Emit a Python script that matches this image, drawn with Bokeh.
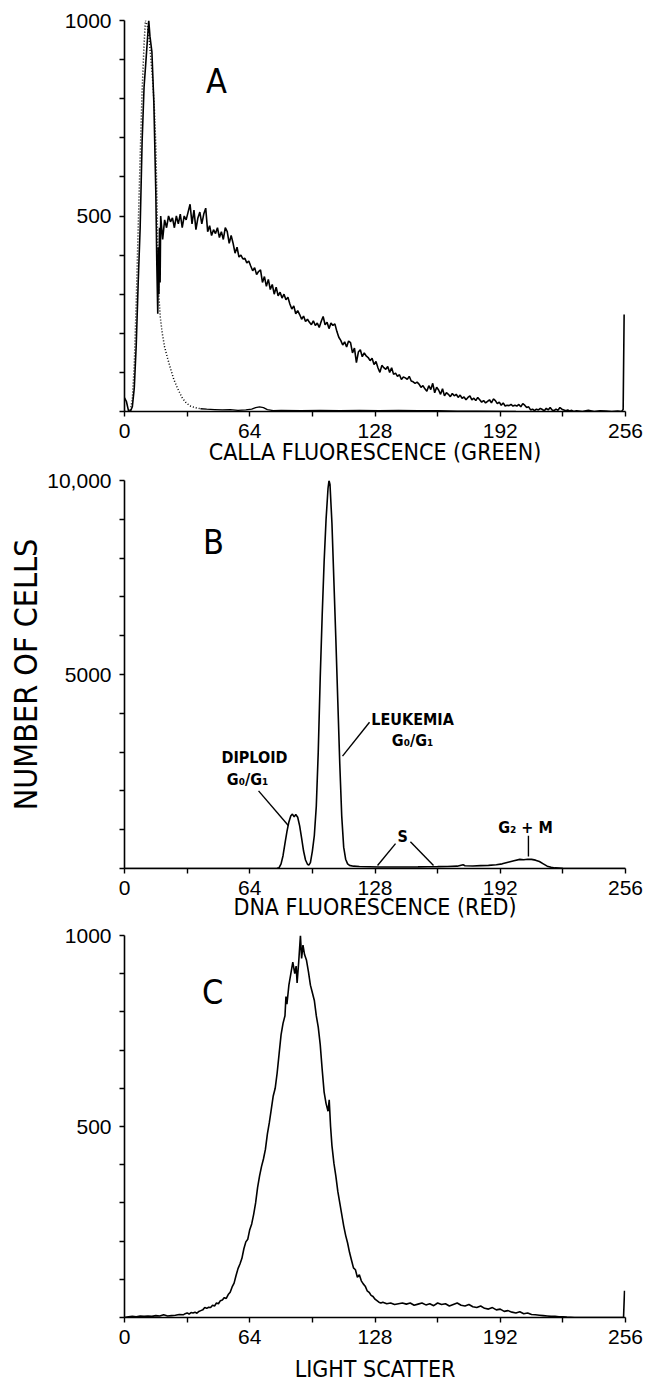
from bokeh.plotting import figure
from bokeh.layouts import column
from bokeh.models import Range1d, FixedTicker, Label
from bokeh.embed import file_html
from bokeh.resources import INLINE

# ---------------- data ----------------
x_ticks = [0, 64, 128, 192, 256]
x_minor = [32, 96, 160, 224]
x_tick_labels = ["0", "64", "128", "192", "256"]

# Panel A: CALLA fluorescence (solid = patient cells)
calla_x = [0, 1, 2, 3, 4, 5, 6, 7, 8, 9, 10, 11, 11.7, 12.4, 13, 14, 15, 16, 16.5, 17, 17.3, 17.6, 17.9, 18.2, 18.5,
           19.5, 20.5, 21.5, 22.5, 23.5, 24.5, 25.5, 26.5, 27.5, 28.5, 29.5, 30.5, 31.5, 32.5, 33.5, 34.5, 35.5, 36.5,
           37.5, 38.5, 39.5, 40.5, 41.5, 42.5, 43.5, 44.5, 45.5, 46.5, 47.5, 48.5, 49.5, 50.5, 51.5, 52.5, 53.5, 54.5,
           55.5, 56.5, 57.5, 58.5, 59.5, 60.5, 61.5, 62.5, 63.5, 64.5, 65.5, 66.5, 67.5, 68.5, 69.5, 70.5, 71.5, 72.5,
           73.5, 74.5, 75.5, 76.5, 77.5, 78.5, 79.5, 80.5, 81.5, 82.5, 83.5, 84.5, 85.5, 86.5, 87.5, 88.5, 89.5, 90.5,
           91.5, 92.5, 93.5, 94.5, 95.5, 96.5, 97.5, 98.5, 99.5, 100.5, 101.5, 102.5, 103.5, 104.5, 105.5, 106.5, 107.5,
           108.5, 109.5, 110.5, 111.5, 112.5, 113.5, 114.5, 115.5, 116.5, 117.5, 118.5, 119.5, 120.5, 121.5, 122.5,
           123.5, 124.5, 125.5, 126.5, 127.5, 128.5, 129.5, 130.5, 131.5, 132.5, 133.5, 134.5, 135.5, 136.5, 137.5,
           138.5, 139.5, 140.5, 141.5, 142.5, 143.5, 144.5, 145.5, 146.5, 147.5, 148.5, 149.5, 150.5, 151.5, 152.5,
           153.5, 154.5, 155.5, 156.5, 157.5, 158.5, 159.5, 160.5, 161.5, 162.5, 163.5, 164.5, 165.5, 166.5, 167.5,
           168.5, 169.5, 170.5, 171.5, 172.5, 173.5, 174.5, 175.5, 176.5, 177.5, 178.5, 179.5, 180.5, 181.5, 182.5,
           183.5, 184.5, 185.5, 186.5, 187.5, 188.5, 189.5, 190.5, 191.5, 192.5, 193.5, 194.5, 195.5, 196.5, 197.5,
           198.5, 199.5, 200.5, 201.5, 202.5, 203.5, 204.5, 205.5, 206.5, 207.5, 208.5, 209.5, 210.5, 211.5, 212.5,
           213.5, 214.5, 215.5, 216.5, 217.5, 218.5, 219.5, 220.5, 221.5, 222.5, 223.5, 224.5, 225.5, 226.5, 227.5,
           228.5, 229.5, 231, 234, 237, 240, 243, 246, 249, 252, 254, 254.8, 255.3]
calla_y = [35, 25, 3, 0, 12, 60, 170, 330, 470, 690, 830, 900, 950, 1000, 960, 920, 790, 560, 380, 250, 420, 300, 470, 330, 500,
           440, 490, 470, 500, 485, 495, 470, 500, 480, 505, 470, 500, 490, 510, 530, 480, 515, 465,
           495, 510, 480, 505, 520, 460, 475, 450, 465, 455, 470, 445, 460, 440, 470, 460, 430, 450,
           430, 405, 420, 395, 400, 390, 392, 380, 385, 372, 360, 368, 350, 358, 362, 330, 345, 320,
           338, 312, 325, 300, 318, 296, 305, 290, 300, 286, 292, 275, 262, 270, 250, 258, 248, 236,
           244, 230, 236, 228, 222, 232, 220, 226, 215, 230, 243, 222, 228, 212, 226, 220, 224,
           205, 190, 182, 170, 178, 165, 180, 176, 150, 162, 125, 152, 158, 140, 150,
           142, 138, 130, 136, 120, 128, 112, 100, 118, 112, 108, 115, 100, 112, 95,
           98, 90, 94, 82, 88, 86, 82, 90, 78, 76, 72, 75, 70, 62, 66,
           58, 52, 66, 56, 72, 48, 62, 55, 44, 58, 40, 48, 44, 38, 46,
           40, 44, 36, 42, 34, 37, 30, 36, 40, 30, 34, 28, 36, 30, 24,
           28, 22, 26, 30, 22, 32, 28, 20, 24, 16, 22, 14, 16, 15, 18,
           14, 16, 14, 18, 12, 20, 16, 10, 12, 4, 6, 2, 6, 4, 8,
           5, 2, 8, 4, 10, 4, 2, 6, 3, 10, 6, 4, 2, 4, 1,
           3, 0, 2, 0, 3, 0, 2, 1, 0, 1, 0, 5, 248]

# Panel A: control (dotted part, then flat tail)
ctrl_x = [0, 2, 3, 4, 5, 6, 7, 8, 9, 10, 10.7, 11.5, 12.5, 13.5, 14.5, 15.3, 16, 16.5, 17, 17.5, 18.3, 19.3, 20.5,
          21.8, 23.5, 25.2, 27, 29.5, 31.5, 33.7, 36, 38.8,
          42, 46, 50, 54, 58, 62, 65, 67, 69, 71, 73, 76, 80, 90, 100, 110, 120, 130, 140, 150, 160, 170, 180, 200]
ctrl_y = [0, 0, 5, 30, 120, 280, 470, 650, 820, 940, 1000, 990, 960, 900, 840, 770, 680, 560, 430, 300, 240, 200, 165,
          140, 110, 82, 60, 35, 22, 14, 10, 7,
          6, 5, 4, 5, 3, 4, 6, 10, 12, 10, 5, 2, 3, 2, 3, 2, 3, 2, 3, 2, 2, 1, 1, 0]

# Panel B: DNA fluorescence
dna_x = [0, 20, 40, 60, 76, 78, 79, 80, 81, 82, 83, 84, 85, 85.8, 86.7, 87.5, 88.5, 89.5, 90.5, 91.5, 92.5, 93.5, 94.2,
         95, 96, 97, 98, 99, 100, 101, 102, 103, 104, 104.5, 105, 106, 107, 108, 109, 110, 111, 112, 113, 114, 115,
         117, 120, 125, 130, 135, 140, 145, 150, 155, 160, 165, 170, 172, 173, 174, 178, 182, 186, 190, 193, 196, 199,
         202, 204, 206, 208, 210, 212, 214, 216, 218, 220, 224, 228, 240, 256]
dna_y = [0, 0, 0, 0, 0, 5, 20, 120, 330, 650, 950, 1200, 1360, 1400, 1330, 1390, 1320, 1100, 780, 450, 220, 110, 85,
         150, 450, 850, 1600, 3000, 4900, 6500, 7900, 9000, 9800, 10000, 9900, 8900, 7400, 5900, 4300, 2700, 1350, 550, 240, 120, 80,
         60, 50, 45, 40, 40, 38, 40, 42, 45, 48, 52, 60, 85, 95, 70, 65, 75, 80, 95, 120, 160, 200,
         235, 225, 240, 235, 215, 180, 120, 60, 30, 15, 5, 0, 0, 0]

# Panel C: light scatter
scat_x = [0, 2, 4, 6, 8, 10, 12, 14, 16, 18, 20, 22, 24, 26, 28, 30, 31, 32, 33, 34, 35, 36, 37, 38, 39, 40, 41, 42,
          43, 44, 45, 46, 47, 48, 49, 50, 51, 52, 53, 54, 55, 56, 57, 58, 59, 60, 61, 62, 63, 64, 65, 66, 67, 68, 69,
          70, 71, 72, 73, 74, 75, 76, 77, 78, 79, 80, 81, 82, 82.5, 83, 84, 85, 86, 87, 87.7, 88.2, 89, 89.9, 90.5,
          91.2, 92, 93, 94, 95, 96, 97, 98, 99, 100, 101, 102, 103, 104, 104.6, 105.3, 106, 107, 108, 109, 110, 111,
          112, 113, 114, 115, 116, 117, 118, 119, 120, 121, 122, 123, 124, 125, 126, 127, 128, 129, 130, 131, 132,
          134, 136, 138, 140, 142, 144, 146, 148, 150, 152, 154, 156, 158, 160, 162, 164, 166, 168, 170, 172, 174,
          176, 178, 180, 182, 184, 186, 188, 190, 192, 194, 196, 198, 200, 202, 204, 206, 208, 210, 212, 214, 216,
          218, 220, 222, 224, 226, 230, 240, 250, 255, 255.5]
scat_y = [0, 2, 3, 2, 4, 3, 4, 3, 5, 4, 7, 4, 5, 6, 8, 7, 10, 12, 9, 13, 12, 14, 11, 16, 18, 20, 26, 24,
          27, 26, 32, 30, 38, 36, 44, 46, 52, 50, 60, 66, 80, 90, 110, 128, 140, 155, 180, 198, 205, 230, 245, 270, 300, 340, 370,
          395, 415, 440, 480, 510, 545, 580, 600, 640, 690, 740, 770, 790, 840, 820, 870, 900, 930, 900, 920, 876, 930, 1000, 940,
          975, 950, 935, 905, 870, 850, 830, 790, 760, 715, 650, 590, 560, 540, 570, 500, 450, 404, 370, 330, 300, 270,
          240, 215, 195, 170, 150, 130, 125, 105, 112, 96, 88, 82, 70, 66, 58, 55, 48, 44, 40, 38, 40,
          36, 38, 34, 36, 38, 35, 38, 32, 35, 38, 33, 36, 31, 38, 34, 36, 30, 34, 38, 32, 30,
          34, 28, 26, 30, 24, 22, 26, 20, 22, 16, 18, 14, 12, 15, 10, 12, 8, 7, 6, 5, 4,
          3, 3, 2, 2, 1, 0, 0, 0, 0, 70]

LINE = "black"
TICK_FONT = "Liberation Sans"
NARROW = "Liberation Sans Narrow, DejaVu Sans Condensed, sans-serif"


def make_panel(height, top, bottom, ymax, ystep, ylabels, title, title_standoff):
    p = figure(width=657, height=height, x_range=Range1d(0, 256), y_range=Range1d(0, ymax),
               output_backend="svg", toolbar_location=None,
               min_border_left=124, min_border_right=32, min_border_top=top, min_border_bottom=bottom)
    p.outline_line_color = None
    p.grid.visible = False
    p.background_fill_color = "white"
    p.border_fill_color = "white"

    xa = p.xaxis[0]
    xa.ticker = FixedTicker(ticks=x_ticks, minor_ticks=x_minor)
    xa.major_label_overrides = {t: s for t, s in zip(x_ticks, x_tick_labels)}
    ya = p.yaxis[0]
    yt = [i * ystep for i in range(11)]
    ya.ticker = FixedTicker(ticks=yt)
    ya.major_label_overrides = {t: ylabels.get(t, "") for t in yt}
    for ax in (xa, ya):
        ax.axis_line_width = 1.6
        ax.axis_line_color = LINE
        ax.major_tick_line_color = LINE
        ax.major_tick_line_width = 1.4
        ax.major_tick_in = 0
        ax.major_tick_out = 5
        ax.minor_tick_line_color = LINE
        ax.minor_tick_line_width = 1.4
        ax.minor_tick_in = 0
        ax.minor_tick_out = 5
        ax.major_label_text_font = TICK_FONT
        ax.major_label_text_font_size = "21px"
        ax.major_label_text_color = "black"
    xa.major_label_standoff = 7
    ya.major_label_standoff = 8

    xa.axis_label = title
    xa.axis_label_text_font = NARROW
    xa.axis_label_text_font_size = "23px"
    xa.axis_label_text_font_style = "normal"
    xa.axis_label_text_color = "black"
    xa.axis_label_standoff = title_standoff
    return p


# ---------- Panel A ----------
pa = make_panel(467, 20, 55, 1000, 100, {500: "500", 1000: "1000"}, "CALLA FLUORESCENCE (GREEN)", -2)
n_dot = 32
pa.line(ctrl_x[:n_dot], ctrl_y[:n_dot], line_color=LINE, line_width=1.5, line_dash="1 2")
pa.line(ctrl_x[n_dot - 1:], ctrl_y[n_dot - 1:], line_color=LINE, line_width=1.3)
pa.line(calla_x, calla_y, line_color=LINE, line_width=1.6)
pa.add_layout(Label(x=47, y=844, text="A", text_align="center", text_baseline="middle",
                    text_font=NARROW, text_font_size="34px", text_color="black"))

# ---------- Panel B ----------
pb = make_panel(455, 13, 52, 10000, 1000, {5000: "5000", 10000: "10,000"}, "DNA FLUORESCENCE (RED)", -4)
pb.line(dna_x, dna_y, line_color=LINE, line_width=1.6)
pb.add_layout(Label(x=45.5, y=8410, text="B", text_align="center", text_baseline="middle",
                    text_font=NARROW, text_font_size="34px", text_color="black"))
yb = pb.yaxis[0]
yb.axis_label = "NUMBER OF CELLS"
yb.axis_label_text_font = NARROW
yb.axis_label_text_font_size = "32px"
yb.axis_label_text_font_style = "normal"
yb.axis_label_text_color = "black"
yb.axis_label_standoff = -1

for tx, ty, txt in [(66.4, 2872, "DIPLOID"), (62.9, 2282, "G\u2080/G\u2081"),
                    (147.2, 3846, "LEUKEMIA"), (147.2, 3308, "G\u2080/G\u2081"),
                    (142.1, 820, "S"), (204.9, 1051, "G\u2082 + M")]:
    pb.add_layout(Label(x=tx, y=ty, text=txt, text_align="center", text_baseline="middle",
                        text_font=NARROW, text_font_size="16px", text_font_style="bold", text_color="black"))
pb.segment(x0=[68.5, 125.2, 138.5, 146.1, 206.4], y0=[2000, 3769, 641, 692, 846],
           x1=[83.8, 111.4, 129.3, 157.9, 206.4], y1=[1103, 2897, 77, 77, 308],
           line_color=LINE, line_width=1.4)

# ---------- Panel C ----------
pc = make_panel(462, 13, 60, 1000, 100, {500: "500", 1000: "1000"}, "LIGHT SCATTER", 9)
pc.line(scat_x, scat_y, line_color=LINE, line_width=1.6)
pc.add_layout(Label(x=45, y=851, text="C", text_align="center", text_baseline="middle",
                    text_font=NARROW, text_font_size="34px", text_color="black"))

layout = column(pa, pb, pc, spacing=0)
open("out.html", "w").write(file_html(layout, INLINE))
